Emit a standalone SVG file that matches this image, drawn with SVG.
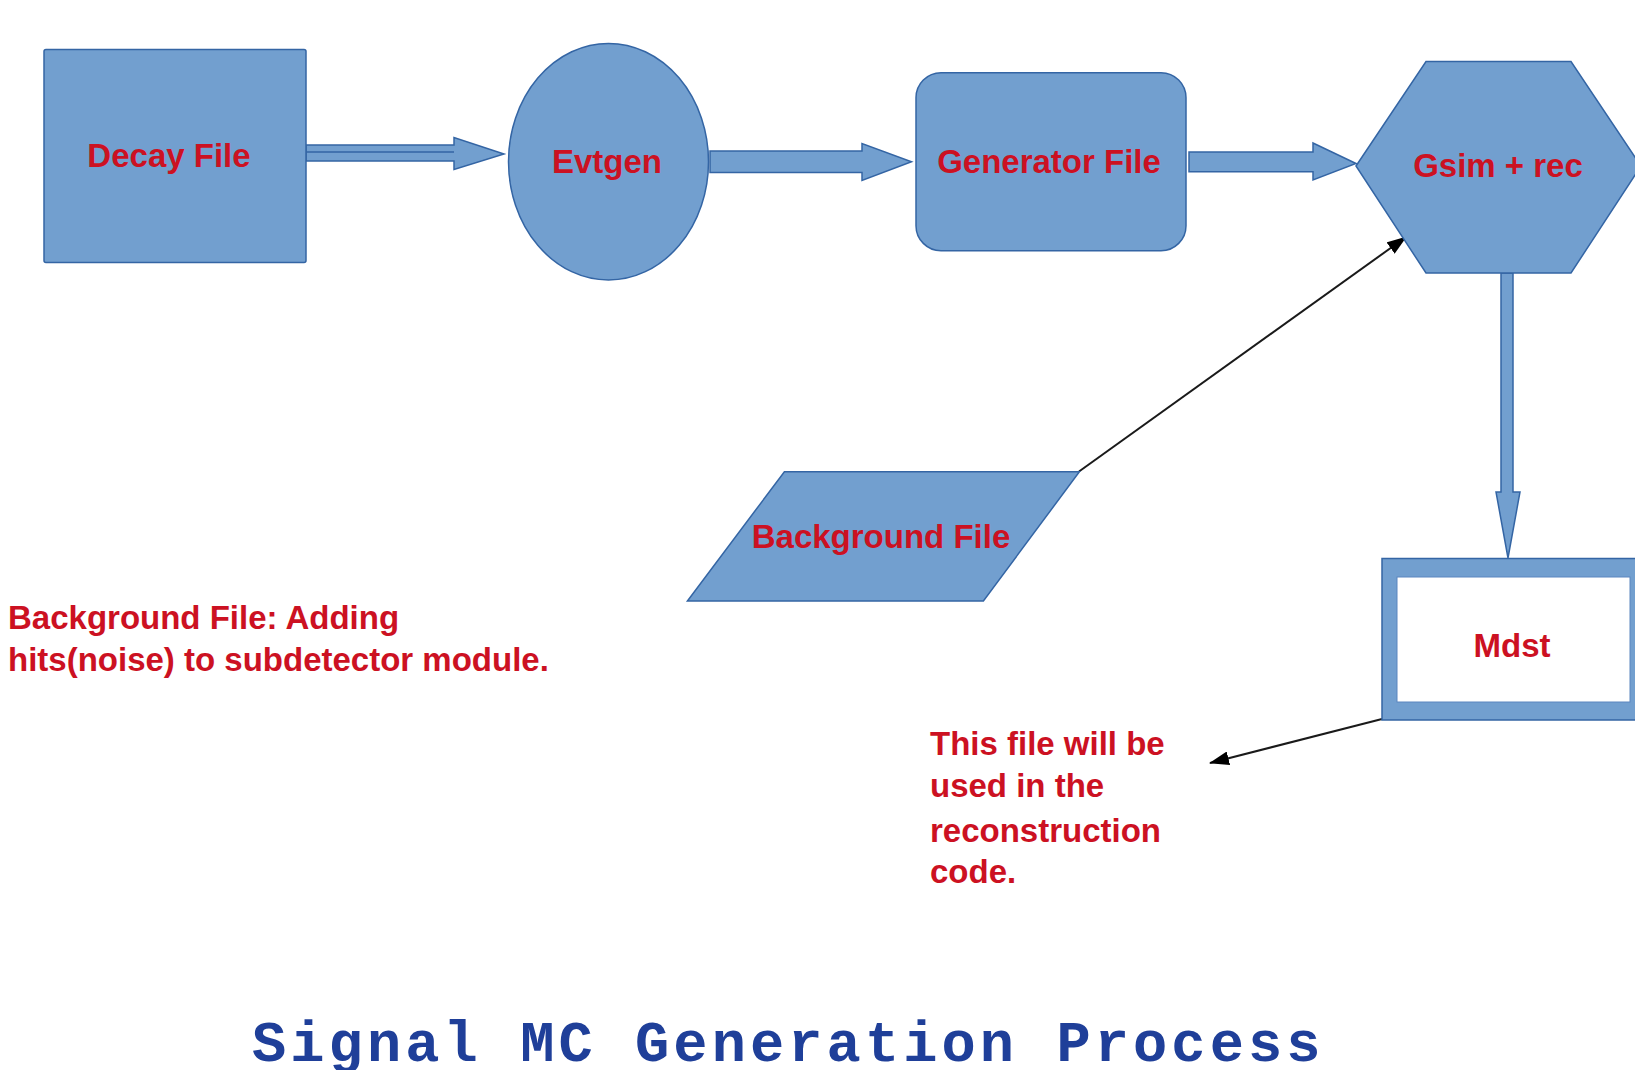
<svg xmlns="http://www.w3.org/2000/svg" width="1635" height="1070" viewBox="0 0 1635 1070">
  <style>
    .shape { fill: #729FCF; stroke: #3465A4; stroke-width: 1.5; }
    .label { font-family: "Liberation Sans", Arial, sans-serif; font-weight: bold; font-size: 33px; fill: #CC1122; }
    .flow { fill: #729FCF; stroke: #3465A4; stroke-width: 1.5; stroke-linejoin: miter; }
    .pointer { fill: none; stroke: #1a1a1a; stroke-width: 2; marker-end: url(#head); }
    .title { font-family: "Liberation Mono", "Courier New", monospace; font-weight: bold; font-size: 57px; letter-spacing: 4.1px; fill: #1F3F99; }
  </style>
  <defs>
    <marker id="head" viewBox="0 0 20 14" refX="19" refY="7" markerWidth="20" markerHeight="14" markerUnits="userSpaceOnUse" orient="auto">
      <path d="M0,0 L20,7 L0,14 z" fill="#000"/>
    </marker>
  </defs>
  <rect width="1635" height="1070" fill="#fff"/>

  <!-- connectors: block arrows along the chain and thin pointers -->
  <g id="connectors">
    <polygon class="flow" points="306,145 454,145 454,137.5 504,154 454,169.5 454,161 306,161"/>
    <line x1="306" y1="152" x2="454" y2="152" stroke="#3465A4" stroke-width="1.5"/>
    <polygon class="flow" points="710,151 862,151 862,143.5 911.5,161.7 862,180.5 862,172.5 710,172.5"/>
    <polygon class="flow" points="1189,152 1313,152 1313,143 1356,163.5 1313,180 1313,171.7 1189,171.7"/>
    <polygon class="flow" points="1501,273 1513,273 1513,492 1520,492 1508,558 1496,492 1501,492"/>
    <line class="pointer" x1="1079" y1="471.5" x2="1406" y2="237"/>
    <line class="pointer" x1="1382" y1="719" x2="1210" y2="763"/>
  </g>

  <g id="decay-file">
    <rect class="shape" x="44" y="49.5" width="262" height="213" rx="2"/>
    <text class="label" x="169" y="167" text-anchor="middle">Decay File</text>
  </g>

  <g id="evtgen">
    <ellipse class="shape" cx="608.5" cy="161.7" rx="100" ry="118.3"/>
    <text class="label" x="607" y="173" text-anchor="middle">Evtgen</text>
  </g>

  <g id="generator-file">
    <rect class="shape" x="916" y="72.7" width="270" height="178" rx="25" ry="25"/>
    <text class="label" x="1049" y="172.7" text-anchor="middle">Generator File</text>
  </g>

  <g id="gsim-rec">
    <polygon class="shape" points="1356,166 1426,61.5 1571,61.5 1641,166 1571,273 1426,273"/>
    <text class="label" x="1498" y="177" text-anchor="middle">Gsim + rec</text>
  </g>

  <g id="background-file">
    <polygon class="shape" points="784.4,471.7 1079.4,471.7 983.4,601 687.4,601"/>
    <text class="label" x="881" y="548.3" text-anchor="middle">Background File</text>
  </g>

  <g id="mdst">
    <rect class="shape" x="1382" y="558.5" width="270" height="161.5"/>
    <rect x="1397" y="577" width="233" height="125" fill="#fff" stroke="#5b86bf" stroke-width="1"/>
    <text class="label" x="1512" y="656.7" text-anchor="middle">Mdst</text>
  </g>

  <g id="background-note">
    <text class="label" x="8" y="629.3">Background File: Adding</text>
    <text class="label" x="8" y="670.7">hits(noise) to subdetector module.</text>
  </g>

  <g id="mdst-note">
    <text class="label" x="930" y="755">This file will be</text>
    <text class="label" x="930" y="797">used in the</text>
    <text class="label" x="930" y="842">reconstruction</text>
    <text class="label" x="930" y="883">code.</text>
  </g>

  <text class="title" x="252" y="1061">Signal MC Generation Process</text>
</svg>
